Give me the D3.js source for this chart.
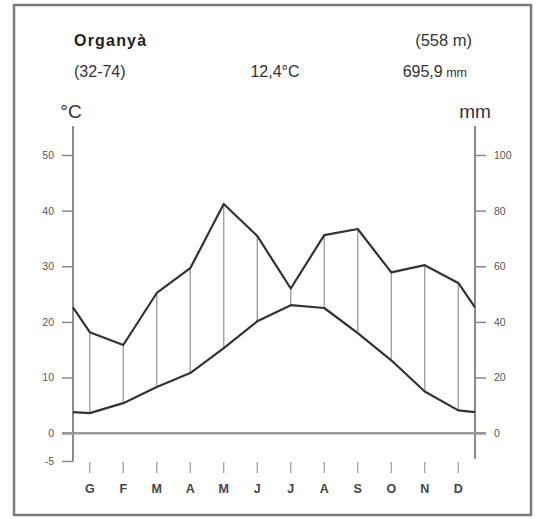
<!DOCTYPE html>
<html>
<head>
<meta charset="utf-8">
<script src="https://cdn.jsdelivr.net/npm/d3@7"></script>
<style>
  html, body { margin: 0; padding: 0; background: #fff; }
  svg { display: block; font-family: "Liberation Sans", Arial, Helvetica, sans-serif; }
</style>
</head>
<body>
<svg id="chart" width="536" height="519"></svg>
<script>
// ---- data ----
const months = ["G", "F", "M", "A", "M", "J", "J", "A", "S", "O", "N", "D"];
const temperature = [3.6, 5.4, 8.3, 10.8, 15.3, 20.1, 23.0, 22.5, 18.0, 13.1, 7.5, 4.1]; // °C
const precipitation = [36.3, 31.7, 50.4, 59.3, 82.4, 70.9, 52.0, 71.2, 73.4, 57.8, 60.4, 54.0]; // mm
const edgeTemperature = [3.8];   // value drawn at both side axes
const edgePrecipitation = [45.2];
const tempTicks = [-5, 0, 10, 20, 30, 40, 50];
const precipTicks = [0, 20, 40, 60, 80, 100];
const station = ["Organyà", "(558 m)"];
const stationInfo = ["(32-74)", "12,4°C", "695,9"];

// ---- layout ----
const svg = d3.select("#chart");
const pLeft = 73, pRight = 475, pTop = 126, pBottom = 461;

const x = d3.scaleBand().domain(d3.range(12)).range([pLeft, pRight]);
const xc = i => x(i) + x.bandwidth() / 2;
const yT = d3.scaleLinear().domain([-5, 50]).range([pBottom, 155]);
const yP = d3.scaleLinear().domain([-10, 100]).range([pBottom, 155]);

// frame
svg.append("rect").attr("x", 14).attr("y", 5).attr("width", 517).attr("height", 510)
  .attr("fill", "none").attr("stroke", "#7a7a7a").attr("stroke-width", 2.5);

// header
svg.append("text").attr("x", 74).attr("y", 46).text(station[0])
  .attr("font-size", 16).attr("font-weight", "bold").attr("letter-spacing", 1.2).attr("fill", "#222");
svg.append("text").attr("x", 472).attr("y", 46).attr("text-anchor", "end").text(station[1])
  .attr("font-size", 16.5).attr("fill", "#333");
svg.append("text").attr("x", 74).attr("y", 77).text(stationInfo[0])
  .attr("font-size", 16).attr("fill", "#333");
svg.append("text").attr("x", 275).attr("y", 77).attr("text-anchor", "middle").text(stationInfo[1])
  .attr("font-size", 16).attr("fill", "#333");
const pt = svg.append("text").attr("x", 467).attr("y", 77).attr("text-anchor", "end")
  .attr("font-size", 16).attr("fill", "#333");
pt.append("tspan").text(stationInfo[2]);
pt.append("tspan").text(" mm").attr("font-size", 12.5);

// axis titles
svg.append("text").attr("x", 71).attr("y", 118).attr("text-anchor", "middle").text("°C")
  .attr("font-size", 19).attr("fill", "#333");
svg.append("text").attr("x", 475).attr("y", 118).attr("text-anchor", "middle").text("mm")
  .attr("font-size", 19).attr("fill", "#333");

// axis lines
svg.append("line").attr("x1", pLeft).attr("x2", pLeft).attr("y1", pTop).attr("y2", pBottom)
  .attr("stroke", "#8a8a8a").attr("stroke-width", 2);
svg.append("line").attr("x1", pRight).attr("x2", pRight).attr("y1", pTop).attr("y2", pBottom - 2)
  .attr("stroke", "#8a8a8a").attr("stroke-width", 2);

// left axis
const gL = svg.append("g").attr("transform", `translate(${pLeft},0)`)
  .call(d3.axisLeft(yT).tickValues(tempTicks).tickSize(11).tickPadding(8).tickFormat(d => d));
gL.select(".domain").remove();
gL.selectAll(".tick line").attr("stroke", "#8a8a8a").attr("stroke-width", 1.5);
gL.selectAll(".tick text").attr("font-size", 10.5).attr("fill", "#555").attr("font-family", null);

// right axis
const gR = svg.append("g").attr("transform", `translate(${pRight},0)`)
  .call(d3.axisRight(yP).tickValues(precipTicks).tickSize(11).tickPadding(8).tickFormat(d => d));
gR.select(".domain").remove();
gR.selectAll(".tick line").attr("stroke", "#8a8a8a").attr("stroke-width", 1.5);
gR.selectAll(".tick text").attr("font-size", 10.5).attr("fill", "#555").attr("font-family", null);

// zero line
svg.append("line").attr("x1", pLeft - 11).attr("x2", pRight + 11)
  .attr("y1", yT(0)).attr("y2", yT(0)).attr("stroke", "#999").attr("stroke-width", 2.5);

// month ticks and labels
const gM = svg.append("g");
gM.selectAll("line").data(months).join("line")
  .attr("x1", (d, i) => xc(i)).attr("x2", (d, i) => xc(i))
  .attr("y1", 462).attr("y2", 473).attr("stroke", "#999").attr("stroke-width", 1.2);
gM.selectAll("text").data(months).join("text")
  .attr("x", (d, i) => xc(i)).attr("y", 493).attr("text-anchor", "middle")
  .attr("font-size", 12.5).attr("font-weight", "bold").attr("fill", "#444").text(d => d);

// hatching (humid periods)
svg.append("g").selectAll("line").data(months).join("line")
  .attr("x1", (d, i) => xc(i)).attr("x2", (d, i) => xc(i))
  .attr("y1", (d, i) => yT(temperature[i])).attr("y2", (d, i) => yP(precipitation[i]))
  .attr("stroke", "#9a9a9a").attr("stroke-width", 1.3);

// curves
const tPts = [[pLeft, yT(edgeTemperature[0])]]
  .concat(temperature.map((v, i) => [xc(i), yT(v)]))
  .concat([[pRight, yT(edgeTemperature[0])]]);
const pPts = [[pLeft, yP(edgePrecipitation[0])]]
  .concat(precipitation.map((v, i) => [xc(i), yP(v)]))
  .concat([[pRight, yP(edgePrecipitation[0])]]);
const line = d3.line();
svg.append("path").attr("d", line(tPts)).attr("fill", "none")
  .attr("stroke", "#333").attr("stroke-width", 2.2).attr("stroke-linejoin", "round");
svg.append("path").attr("d", line(pPts)).attr("fill", "none")
  .attr("stroke", "#333").attr("stroke-width", 2.2).attr("stroke-linejoin", "round");
</script>
</body>
</html>
